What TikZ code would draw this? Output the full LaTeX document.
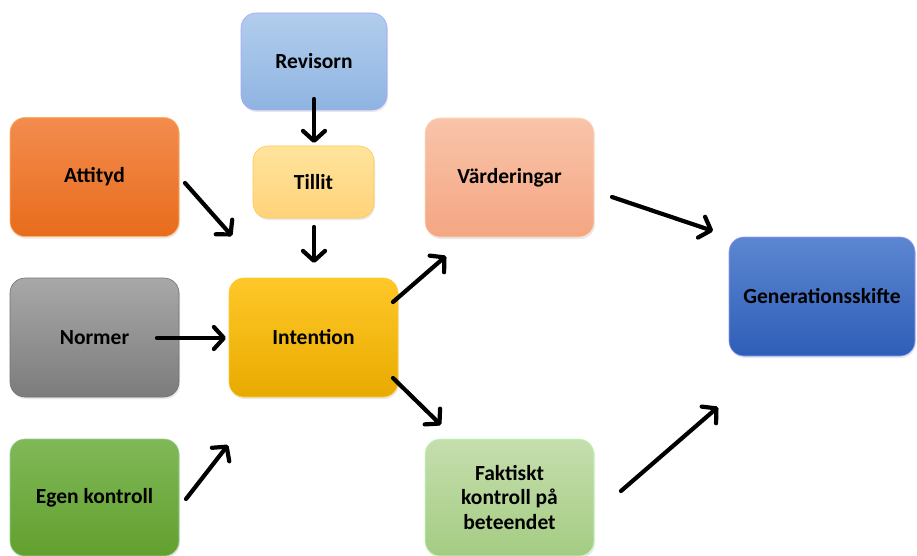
\documentclass[tikz,border=0pt]{standalone}
\usepackage{fontspec}
\setmainfont{Carlito}
\usepackage{tikz}
\usetikzlibrary{arrows.meta, shadows}

\tikzset{
    box/.style={rounded corners=15pt, inner sep=0pt, align=center,
        font=\fontsize{21.5}{24.5}\selectfont\bfseries, text=black,
        draw=#1, line width=0.6pt,
        drop shadow={opacity=0.18, shadow xshift=1pt, shadow yshift=-2pt}},
    big/.style={minimum width=169pt, minimum height=119pt},
    flow/.style={line width=4.2pt, line cap=round,
        -{Straight Barb[length=10pt, width=22pt, line cap=round, line join=round]}}
}

\begin{document}
\begin{tikzpicture}[x=1pt, y=-1pt]
    \useasboundingbox (0,0) rectangle (917,556);

    % Boxes
    \node[box=blue!35!white, minimum width=146pt, minimum height=97pt,
          top color={rgb,255:red,178;green,205;blue,236}, bottom color={rgb,255:red,143;green,180;blue,226}]
          (rev) at (314,61.5) {Revisorn};
    \node[box=orange!60!yellow!70, minimum width=121pt, minimum height=72pt,
          top color={rgb,255:red,255;green,228;blue,156}, bottom color={rgb,255:red,255;green,211;blue,122}]
          (til) at (313.5,182) {Tillit};
    \node[box=orange!60!white, big,
          top color={rgb,255:red,243;green,140;blue,78}, bottom color={rgb,255:red,232;green,108;blue,28}]
          (att) at (94.5,177) {Attityd};
    \node[box=black!55, big,
          top color={rgb,255:red,168;green,168;blue,168}, bottom color={rgb,255:red,124;green,124;blue,124}]
          (nor) at (94.5,337.5) {Normer};
    \node[box=green!40!gray!60, minimum width=169pt, minimum height=117pt,
          top color={rgb,255:red,128;green,184;blue,88}, bottom color={rgb,255:red,98;green,160;blue,46}]
          (egen) at (94.5,497.5) {Egen kontroll};
    \node[box=orange!50!yellow!80, big,
          top color={rgb,255:red,255;green,200;blue,40}, bottom color={rgb,255:red,232;green,170;blue,0}]
          (int) at (313.5,337.5) {Intention};
    \node[box=orange!25!white, big,
          top color={rgb,255:red,249;green,196;blue,170}, bottom color={rgb,255:red,244;green,166;blue,130}]
          (vard) at (509.5,177.5) {Värderingar};
    \node[box=green!25!white, minimum width=169pt, minimum height=117pt,
          top color={rgb,255:red,198;green,222;blue,174}, bottom color={rgb,255:red,164;green,204;blue,130}]
          (fakt) at (509.5,497.5) {Faktiskt\\kontroll på\\beteendet};
    \node[box=blue!40!white, minimum width=186pt, minimum height=119pt,
          top color={rgb,255:red,92;green,134;blue,208}, bottom color={rgb,255:red,46;green,94;blue,184}]
          (gen) at (822,296.5) {Generationsskifte};

    % Arrow ends
    \coordinate (rev-out) at (314,99);   \coordinate (til-in) at (314,143);
    \coordinate (til-out) at (314,227);  \coordinate (int-top) at (314,263);
    \coordinate (att-out) at (185,183);  \coordinate (int-att) at (232,236);
    \coordinate (nor-out) at (157,338);  \coordinate (int-nor) at (226,338);
    \coordinate (egen-out) at (186,499); \coordinate (int-egen) at (228,445);
    \coordinate (int-up) at (393,302);   \coordinate (vard-in) at (446,256);
    \coordinate (int-down) at (393,378); \coordinate (fakt-in) at (441,425);
    \coordinate (vard-out) at (612,197); \coordinate (gen-top) at (713,231);
    \coordinate (fakt-out) at (621,491); \coordinate (gen-low) at (718,407);

    % Arrows
    \draw[flow] (rev-out) -- (til-in);
    \draw[flow] (til-out) -- (int-top);
    \draw[flow] (att-out) -- (int-att);
    \draw[flow] (nor-out) -- (int-nor);
    \draw[flow] (egen-out) -- (int-egen);
    \draw[flow] (int-up) -- (vard-in);
    \draw[flow] (int-down) -- (fakt-in);
    \draw[flow] (vard-out) -- (gen-top);
    \draw[flow] (fakt-out) -- (gen-low);
\end{tikzpicture}
\end{document}
